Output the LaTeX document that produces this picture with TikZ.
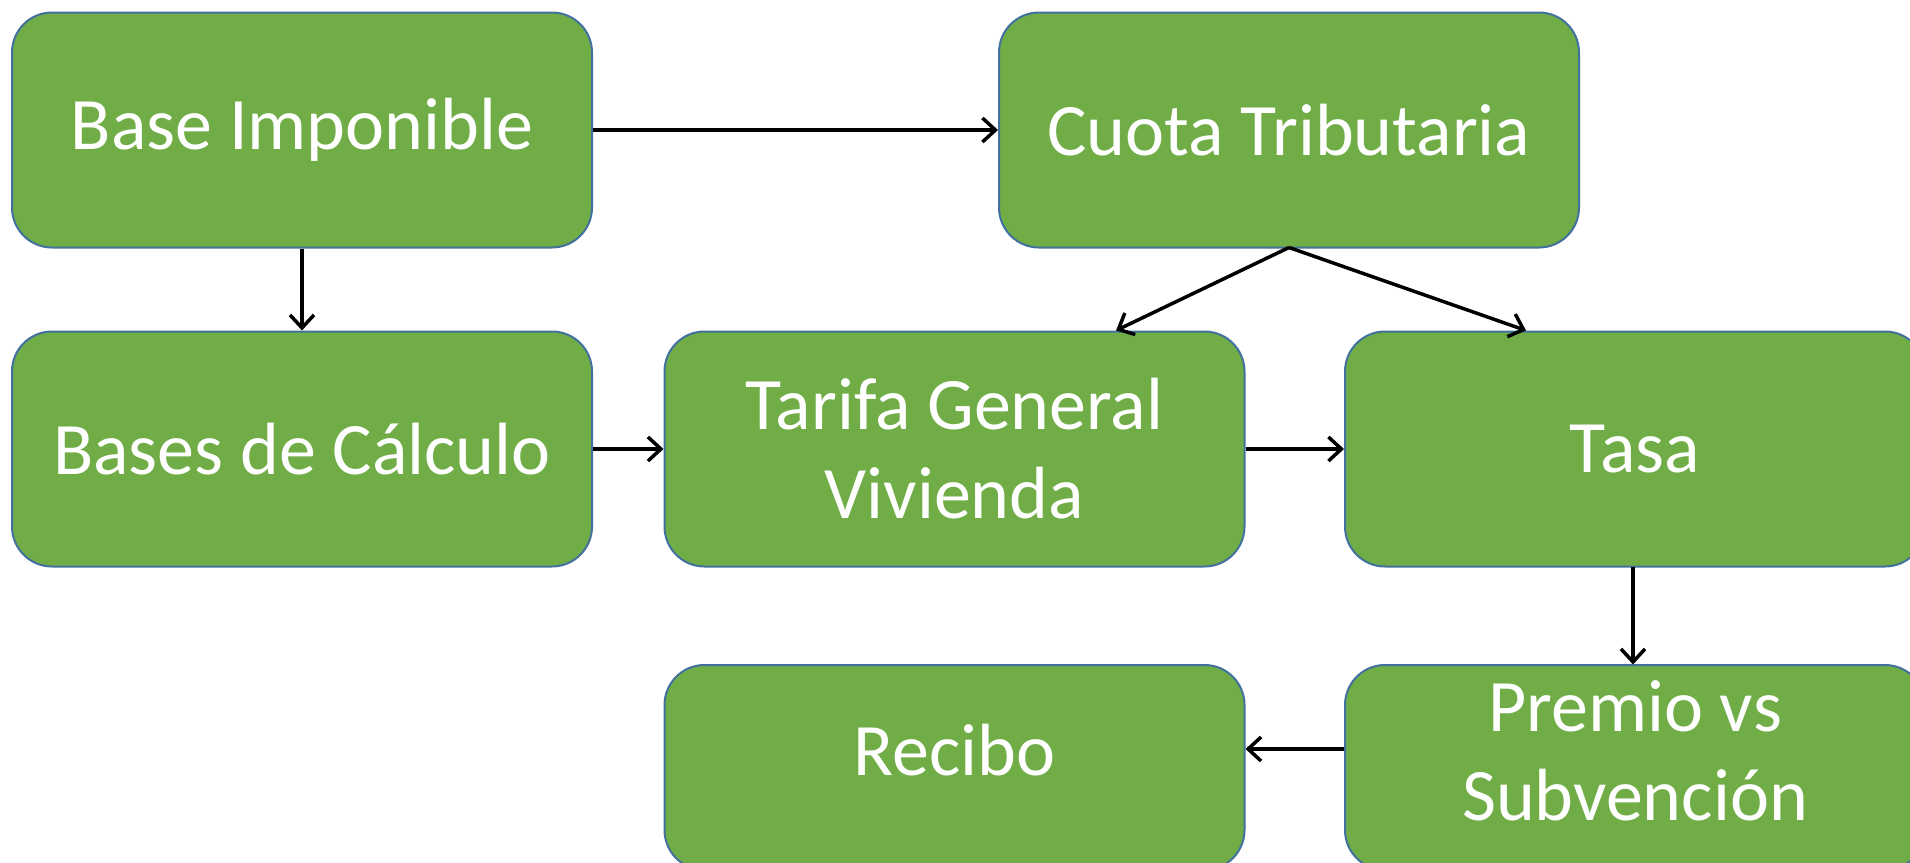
\documentclass[tikz,border=0pt]{standalone}
\usepackage{fontspec}
\setmainfont{Carlito}
\usetikzlibrary{arrows.meta}
\definecolor{boxgreen}{HTML}{70AD47}
\definecolor{boxedge}{HTML}{41719C}
\tikzset{
  flowbox/.style={draw=boxedge, line width=2pt, fill=boxgreen, rounded corners=40pt,
    minimum width=580pt, minimum height=235pt, inner sep=0pt, text=white, align=center,
    font=\fontsize{74}{89}\selectfont},
  lowbox/.style={flowbox, minimum height=205pt},
  lowtext/.style={text=white, align=center, font=\fontsize{74}{89}\selectfont, yshift=17pt},
  conn/.style={draw=black, line width=3.5pt, -{Straight Barb[length=13pt,width=24pt,line width=3.5pt]}}
}
\begin{document}
\begin{tikzpicture}[x=1pt,y=-1pt]
\clip (0,0) rectangle (1910,862);
\fill[white] (0,0) rectangle (1910,862);
\node[flowbox] (bi) at (302,130) {Base Imponible};
\node[flowbox] (ct) at (1289,130) {Cuota Tributaria};
\node[flowbox] (bc) at (302,449) {Bases de Cálculo};
\node[flowbox] (tgv) at (954.5,449) {Tarifa General\\Vivienda};
\node[flowbox] (tasa) at (1635,449) {Tasa};
\node[lowbox, label={[lowtext]center:Recibo}] (rec) at (954.5,767.5) {};
\node[lowbox, label={[lowtext]center:Premio vs\\Subvención}] (pre) at (1635,767.5) {};
\coordinate (ctb) at (1289,247.5);
\coordinate (tgvt) at (1116,330.5);
\coordinate (tasat) at (1526,330.5);
\draw[conn] (bi.east) -- (ct.west);
\draw[conn] (bi.south) -- (bc.north);
\draw[conn] (ctb) -- (tgvt);
\draw[conn] (ctb) -- (tasat);
\draw[conn] (bc.east) -- (tgv.west);
\draw[conn] (tgv.east) -- (tasa.west);
\draw[conn] (1633,566.5) -- (1633,664.5);
\draw[conn] (pre.west |- 0,749) -- (rec.east |- 0,749);
\end{tikzpicture}
\end{document}
